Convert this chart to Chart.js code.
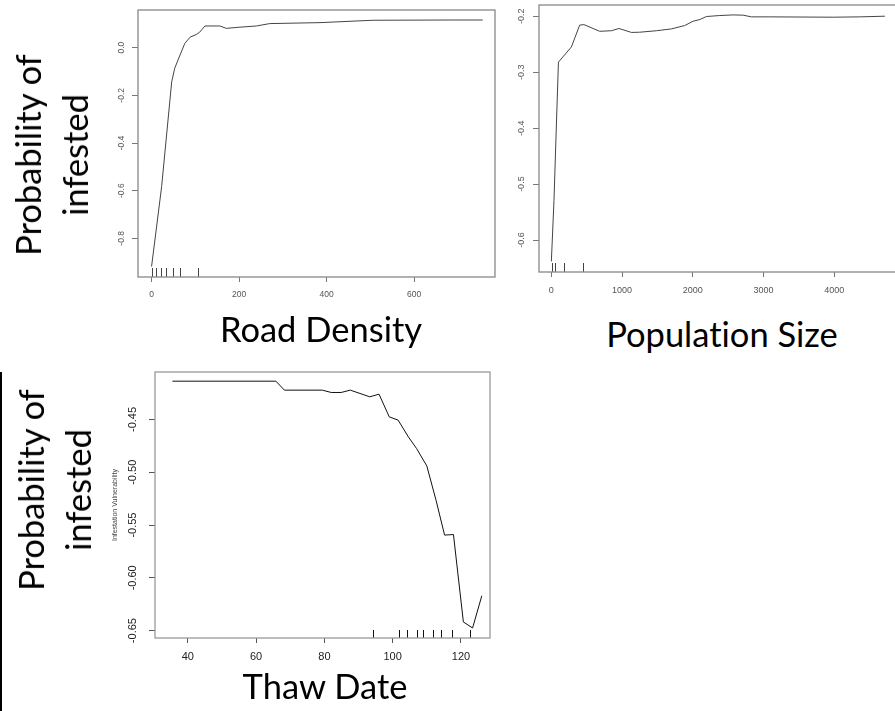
<!DOCTYPE html>
<html>
<head>
<meta charset="utf-8">
<script src="https://cdn.jsdelivr.net/npm/chart.js"></script>
<style>
  body { margin: 0; width: 895px; height: 711px; background: #fff; position: relative; overflow: hidden; }
  .panel { position: absolute; }
  .big { position: absolute; font-family: Lato, "Open Sans", sans-serif; font-size: 34.5px; color: #000; white-space: nowrap; line-height: 1; font-variant-ligatures: none; }
  .ylab { transform: translate(-50%, -50%) rotate(-90deg); text-align: center; line-height: 47px; }
  .xlab { transform: translateX(-50%); }
  .bar { position: absolute; left: 0; top: 372px; width: 2px; height: 339px; background: #000; }
</style>
</head>
<body>
<div class="panel" style="left:88px;top:0;width:412px;height:312px"><canvas id="road" width="412" height="312"></canvas></div>
<div class="panel" style="left:488px;top:0;width:417px;height:300px"><canvas id="pop" width="417" height="300"></canvas></div>
<div class="panel" style="left:100px;top:360px;width:400px;height:351px"><canvas id="thaw" width="400" height="351"></canvas></div>

<div class="big ylab" style="left:51px;top:155px">Probability of<br>infested</div>
<div class="big ylab" style="left:54px;top:490px">Probability of<br>infested</div>
<div class="big xlab" style="left:321px;top:312px">Road Density</div>
<div class="big xlab" style="left:722px;top:317px">Population Size</div>
<div class="big xlab" style="left:325px;top:669px">Thaw Date</div>
<div class="bar"></div>

<script>
// road density panel
const roadX = [0, 23, 46, 53, 65, 76, 88, 103, 110, 122, 156, 171, 202, 240, 270, 385, 506, 682, 757];
const roadY = [-0.918, -0.583, -0.143, -0.086, -0.031, 0.018, 0.044, 0.056, 0.065, 0.091, 0.091, 0.081, 0.086, 0.091, 0.101, 0.105, 0.115, 0.116, 0.116];
const roadRug = [0, 11, 21, 34, 49, 66, 106];
const roadXTicks = [0, 200, 400, 600];
const roadYTicks = [0, -0.2, -0.4, -0.6, -0.8];

// population size panel
const popX = [0, 37, 70, 100, 283, 400, 460, 683, 848, 957, 1132, 1249, 1486, 1698, 1886, 2004, 2099, 2193, 2382, 2570, 2712, 2830, 3089, 3985, 4363, 4717];
const popY = [-0.638, -0.529, -0.398, -0.282, -0.255, -0.216, -0.215, -0.227, -0.226, -0.222, -0.229, -0.2286, -0.226, -0.2227, -0.2167, -0.209, -0.206, -0.2006, -0.1988, -0.1977, -0.1982, -0.2012, -0.2012, -0.2018, -0.2012, -0.2];
const popRug = [5, 52, 174, 449];
const popXTicks = [0, 1000, 2000, 3000, 4000];
const popYTicks = [-0.2, -0.3, -0.4, -0.5, -0.6];

// thaw date panel
const thawX = [35.5, 65.8, 68.3, 79.4, 82, 84.9, 87.6, 93.3, 96, 99, 101.6, 104.6, 107, 110, 112.7, 115.2, 117.8, 120.7, 123.4, 126.1];
const thawY = [-0.4137, -0.4137, -0.4222, -0.4222, -0.4244, -0.4244, -0.4222, -0.4285, -0.426, -0.4475, -0.4506, -0.4665, -0.4775, -0.494, -0.5265, -0.5595, -0.559, -0.6418, -0.6475, -0.617];
const thawRug = [94.1, 101.9, 104.1, 107, 109, 111.7, 114.1, 117.5, 122.5];
const thawXTicks = [40, 60, 80, 100, 120];
const thawYTicks = [-0.45, -0.5, -0.55, -0.6, -0.65];

// marco alrededor del area de la grafica (como bty="o" de R)
const boxPlugin = (color, width) => ({
    id: 'box',
    afterDraw(chart) {
        const a = chart.chartArea;
        const ctx = chart.ctx;
        ctx.save();
        ctx.strokeStyle = color;
        ctx.lineWidth = width;
        ctx.strokeRect(a.left, a.top, a.right - a.left, a.bottom - a.top);
        ctx.restore();
    }
});

// rug: rayitas en el borde inferior para cada observacion
const rugPlugin = (values, len, color) => ({
    id: 'rug',
    afterDatasetsDraw(chart) {
        const xs = chart.scales.x;
        const bottom = chart.chartArea.bottom;
        const ctx = chart.ctx;
        ctx.save();
        ctx.strokeStyle = color;
        ctx.lineWidth = 1;
        ctx.beginPath();
        values.forEach(v => {
            const px = Math.round(xs.getPixelForValue(v)) + 0.5;
            ctx.moveTo(px, bottom);
            ctx.lineTo(px, bottom - len);
        });
        ctx.stroke();
        ctx.restore();
    }
});

function makePanel(id, cfg) {
    const tickFont = { family: '"Liberation Sans", Arial, sans-serif', size: cfg.fontSize };
    return new Chart(document.getElementById(id), {
        type: 'line',
        data: {
            datasets: [{
                data: cfg.xs.map((x, i) => ({ x: x, y: cfg.ys[i] })),
                borderColor: cfg.lineColor,
                borderWidth: 1,
                pointRadius: 0,
                tension: 0,
                fill: false
            }]
        },
        options: {
            responsive: false,
            animation: false,
            devicePixelRatio: 1,
            layout: { padding: { top: cfg.padTop, right: cfg.padRight, left: 0, bottom: 0 } },
            plugins: { legend: { display: false }, tooltip: { enabled: false } },
            scales: {
                x: {
                    type: 'linear',
                    min: cfg.xMin,
                    max: cfg.xMax,
                    afterBuildTicks: s => { s.ticks = cfg.xTicks.map(v => ({ value: v })); },
                    afterFit: s => { s.height = cfg.xHeight; s.paddingLeft = 0; s.paddingRight = 0; },
                    grid: { display: true, drawOnChartArea: false, drawTicks: true, tickLength: 5, color: cfg.tickColor },
                    border: { display: false },
                    ticks: { minRotation: 0, maxRotation: 0, padding: cfg.xPad, font: tickFont, color: cfg.labelColor, callback: v => String(v) }
                },
                y: {
                    type: 'linear',
                    min: cfg.yMin,
                    max: cfg.yMax,
                    afterBuildTicks: s => { s.ticks = cfg.yTicks.map(v => ({ value: v })); },
                    afterFit: s => { s.width = cfg.yWidth; s.paddingTop = 0; s.paddingBottom = 0; },
                    grid: { display: true, drawOnChartArea: false, drawTicks: true, tickLength: 6, color: cfg.tickColor },
                    border: { display: false },
                    title: cfg.yTitle ? { display: true, text: cfg.yTitle, color: '#444', font: { family: '"Liberation Sans", Arial, sans-serif', size: 7 }, padding: { top: 11, bottom: 0 } } : { display: false },
                    ticks: { minRotation: 90, maxRotation: 90, crossAlign: 'center', padding: cfg.yPad, font: tickFont, color: cfg.labelColor, callback: v => v.toFixed(cfg.yDec) }
                }
            }
        },
        plugins: [boxPlugin(cfg.boxColor, 1.3), rugPlugin(cfg.rug, cfg.rugLen, cfg.lineColor)]
    });
}

makePanel('road', {
    xs: roadX, ys: roadY, rug: roadRug, rugLen: 9,
    xTicks: roadXTicks, yTicks: roadYTicks, yDec: 1,
    xMin: -31, xMax: 785, yMin: -0.962, yMax: 0.158,
    padTop: 10, padRight: 5, xHeight: 35, yWidth: 50,
    xPad: 8, yPad: 3, fontSize: 8.5,
    lineColor: '#444', boxColor: '#888', tickColor: '#777', labelColor: '#555'
});

makePanel('pop', {
    xs: popX, ys: popY, rug: popRug, rugLen: 9,
    xTicks: popXTicks, yTicks: popYTicks, yDec: 1,
    xMin: -175, xMax: 4902, yMin: -0.657, yMax: -0.18,
    padTop: 5, padRight: 7, xHeight: 28, yWidth: 51,
    xPad: 8, yPad: 4, fontSize: 9,
    lineColor: '#444', boxColor: '#888', tickColor: '#777', labelColor: '#555'
});

makePanel('thaw', {
    xs: thawX, ys: thawY, rug: thawRug, rugLen: 8,
    xTicks: thawXTicks, yTicks: thawYTicks, yDec: 2,
    xMin: 30.4, xMax: 128.5, yMin: -0.657, yMax: -0.405,
    padTop: 12, padRight: 10, xHeight: 73, yWidth: 55,
    xPad: 7, yPad: 3, fontSize: 11,
    lineColor: '#111', boxColor: '#9a9a9a', tickColor: '#555', labelColor: '#222',
    yTitle: 'Infestation Vulnerability'
});
</script>
</body>
</html>
